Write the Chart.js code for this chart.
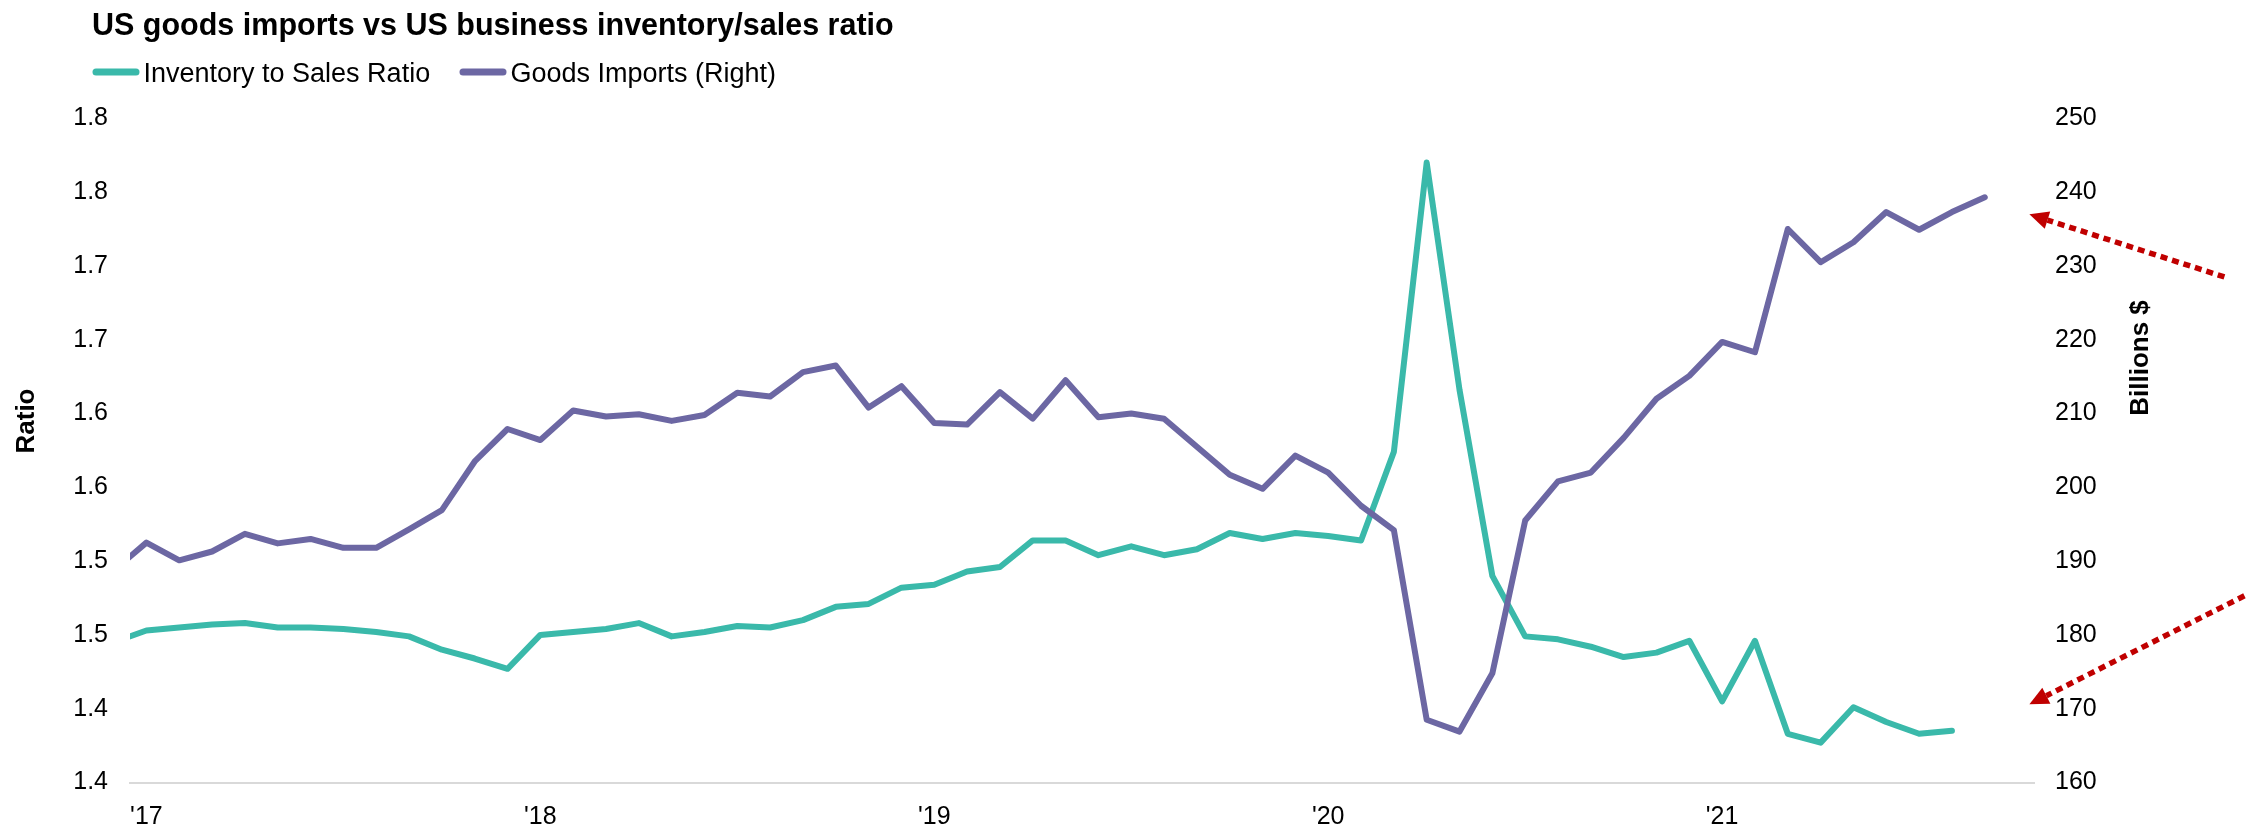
<!DOCTYPE html>
<html>
<head>
<meta charset="utf-8">
<title>US goods imports vs US business inventory/sales ratio</title>
<script src="https://cdn.jsdelivr.net/npm/chart.js@4.4.1/dist/chart.umd.min.js"></script>
<style>
  html, body { margin: 0; padding: 0; background: #ffffff; }
  #wrap { width: 2267px; height: 827px; }
</style>
</head>
<body>
<div id="wrap"><canvas id="chart" width="2267" height="827"></canvas></div>
<script>
// Months counted from Jan 2017 (0); -1 is Dec 2016, 56 is Sep 2021.
const monthIndex = [-1, 0, 1, 2, 3, 4, 5, 6, 7, 8, 9, 10, 11,
  12, 13, 14, 15, 16, 17, 18, 19, 20, 21, 22, 23,
  24, 25, 26, 27, 28, 29, 30, 31, 32, 33, 34, 35,
  36, 37, 38, 39, 40, 41, 42, 43, 44, 45, 46, 47,
  48, 49, 50, 51, 52, 53, 54, 55, 56];

// Business inventory to sales ratio (left axis)
const inventorySalesRatio = [1.445, 1.453, 1.455, 1.457, 1.458, 1.455, 1.455, 1.454, 1.452, 1.449, 1.440, 1.434, 1.427,
  1.450, 1.452, 1.454, 1.458, 1.449, 1.452, 1.456, 1.455, 1.460, 1.469, 1.471, 1.482,
  1.484, 1.493, 1.496, 1.514, 1.514, 1.504, 1.510, 1.504, 1.508, 1.519, 1.515, 1.519,
  1.517, 1.514, 1.574, 1.770, 1.616, 1.490, 1.449, 1.447, 1.442, 1.435, 1.438, 1.446,
  1.405, 1.446, 1.383, 1.377, 1.401, 1.391, 1.383, 1.385];

// Goods imports, billions $ (right axis)
const goodsImports = [188.7, 192.5, 190.1, 191.3, 193.7, 192.4, 193.0, 191.8, 191.8, 194.3, 196.9, 203.5, 207.9,
  206.4, 210.4, 209.6, 209.9, 209.0, 209.8, 212.8, 212.3, 215.6, 216.5, 210.8, 213.7,
  208.7, 208.5, 212.9, 209.3, 214.5, 209.5, 210.0, 209.3, 205.5, 201.7, 199.8, 204.3,
  202.0, 197.5, 194.2, 168.5, 166.9, 174.8, 195.5, 200.8, 202.0, 206.7, 212.0, 215.1,
  219.7, 218.3, 235.0, 230.5, 233.2, 237.3, 234.9, 237.3, 239.3];

// Year ticks (January of each year) and their labels
const yearTickMonths = [0, 12, 24, 36, 48];
const yearTickLabels = ["'17", "'18", "'19", "'20", "'21"];

// Left axis labels, bottom to top (ticks every 0.05 shown to one decimal)
const ratioTickLabels = ['1.4', '1.4', '1.5', '1.5', '1.6', '1.6', '1.7', '1.7', '1.8', '1.8'];

const TEAL = '#3ab9aa';
const PURPLE = '#6c67a3';
const ARROW_RED = '#c00000';
const FONT = '"Liberation Sans", Arial, Helvetica, sans-serif';

// Dotted call-out arrows, in x (month) and right-axis (billions $) units
const arrowTails = [{ x: 63.30, y: 228.5 }, { x: 63.91, y: 185.3 }];
const arrowTips  = [{ x: 57.36, y: 237.0 }, { x: 57.36, y: 170.6 }];

const pairs = (ys) => monthIndex.map((m, i) => ({ x: m, y: ys[i] }));

const decorations = {
  id: 'decorations',
  afterDraw(chart) {
    const ctx = chart.ctx;
    const xs = chart.scales.x;
    const yr = chart.scales.yImports;
    ctx.save();

    // Title
    ctx.fillStyle = '#000000';
    ctx.textBaseline = 'alphabetic';
    ctx.textAlign = 'left';
    ctx.font = 'bold 30.5px ' + FONT;
    ctx.fillText('US goods imports vs US business inventory/sales ratio', 92, 35);

    // Legend
    const legendItems = [
      { label: 'Inventory to Sales Ratio', color: TEAL, x: 92.5 },
      { label: 'Goods Imports (Right)', color: PURPLE, x: 459.5 }
    ];
    ctx.font = '27px ' + FONT;
    legendItems.forEach(item => {
      ctx.strokeStyle = item.color;
      ctx.lineWidth = 7;
      ctx.lineCap = 'round';
      ctx.beginPath();
      ctx.moveTo(item.x + 3.5, 72);
      ctx.lineTo(item.x + 43.5, 72);
      ctx.stroke();
      ctx.fillStyle = '#000000';
      ctx.fillText(item.label, item.x + 51, 81.5);
    });

    // Axis titles
    ctx.font = 'bold 26px ' + FONT;
    ctx.textAlign = 'center';
    ctx.textBaseline = 'middle';
    ctx.save();
    ctx.translate(27, 421);
    ctx.rotate(-Math.PI / 2);
    ctx.fillText('Ratio', 0, 0);
    ctx.restore();
    ctx.save();
    ctx.translate(2141, 358);
    ctx.rotate(-Math.PI / 2);
    ctx.fillText('Billions $', 0, 0);
    ctx.restore();

    // Dotted arrows
    arrowTails.forEach((tail, i) => {
      const tip = arrowTips[i];
      const x0 = xs.getPixelForValue(tail.x), y0 = yr.getPixelForValue(tail.y);
      const x1 = xs.getPixelForValue(tip.x),  y1 = yr.getPixelForValue(tip.y);
      const ang = Math.atan2(y1 - y0, x1 - x0);
      const headLen = 19, headHalf = 9;
      const bx = x1 - headLen * Math.cos(ang), by = y1 - headLen * Math.sin(ang);
      ctx.strokeStyle = ARROW_RED;
      ctx.lineWidth = 5.5;
      ctx.lineCap = 'butt';
      ctx.setLineDash([7, 5]);
      ctx.beginPath();
      ctx.moveTo(x0, y0);
      ctx.lineTo(bx, by);
      ctx.stroke();
      ctx.setLineDash([]);
      ctx.fillStyle = ARROW_RED;
      ctx.beginPath();
      ctx.moveTo(x1, y1);
      ctx.lineTo(bx + headHalf * Math.sin(ang), by - headHalf * Math.cos(ang));
      ctx.lineTo(bx - headHalf * Math.sin(ang), by + headHalf * Math.cos(ang));
      ctx.closePath();
      ctx.fill();
    });

    ctx.restore();
  }
};

const tickFont = { family: FONT, size: 25 };

new Chart(document.getElementById('chart').getContext('2d'), {
  type: 'line',
  data: {
    datasets: [
      {
        label: 'Inventory to Sales Ratio',
        data: pairs(inventorySalesRatio),
        yAxisID: 'yRatio',
        borderColor: TEAL,
        backgroundColor: TEAL,
        borderWidth: 6,
        borderJoinStyle: 'round',
        borderCapStyle: 'round',
        pointRadius: 0,
        tension: 0,
        clip: 0,
        order: 1
      },
      {
        label: 'Goods Imports (Right)',
        data: pairs(goodsImports),
        yAxisID: 'yImports',
        borderColor: PURPLE,
        backgroundColor: PURPLE,
        borderWidth: 6,
        borderJoinStyle: 'round',
        borderCapStyle: 'round',
        pointRadius: 0,
        tension: 0,
        clip: 0,
        order: 0
      }
    ]
  },
  options: {
    responsive: false,
    animation: false,
    events: [],
    layout: { padding: { top: 118.3, left: 0, right: 0, bottom: 0 } },
    plugins: {
      legend: { display: false },
      title: { display: false },
      tooltip: { enabled: false }
    },
    scales: {
      x: {
        type: 'linear',
        min: -0.5,
        max: 57.5,
        afterBuildTicks: (scale) => { scale.ticks = yearTickMonths.map(v => ({ value: v })); },
        afterFit: (scale) => { scale.height = 44.5; },
        ticks: {
          autoSkip: false,
          maxRotation: 0,
          padding: 20,
          color: '#000000',
          font: tickFont,
          callback: (value, index) => yearTickLabels[index]
        },
        grid: { display: true, drawOnChartArea: false, drawTicks: false },
        border: { display: true, color: '#d9d9d9', width: 2 }
      },
      yRatio: {
        position: 'left',
        min: 1.35,
        max: 1.80,
        afterFit: (scale) => { scale.width = 130; },
        ticks: {
          stepSize: 0.05,
          padding: 22,
          color: '#000000',
          font: tickFont,
          callback: (value, index) => ratioTickLabels[index]
        },
        grid: { display: false, drawTicks: false },
        border: { display: false }
      },
      yImports: {
        position: 'right',
        min: 160,
        max: 250,
        afterFit: (scale) => { scale.width = 233; },
        ticks: {
          stepSize: 10,
          padding: 21,
          color: '#000000',
          font: tickFont
        },
        grid: { display: false, drawTicks: false },
        border: { display: false }
      }
    }
  },
  plugins: [decorations]
});
</script>
</body>
</html>
